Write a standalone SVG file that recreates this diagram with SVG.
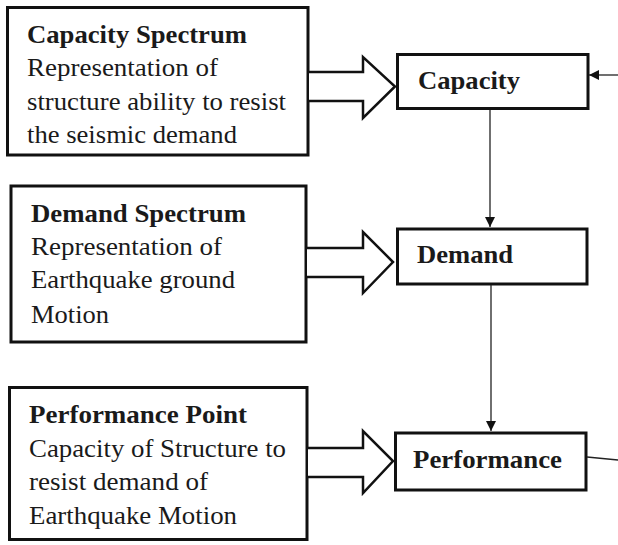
<svg xmlns="http://www.w3.org/2000/svg" width="618" height="545" viewBox="0 0 618 545">
<style>
.box{fill:#fff;stroke:#111;stroke-width:3}
.blk{fill:#fff;stroke:#111;stroke-width:2.5;stroke-linejoin:miter}
.t{font-family:"Liberation Serif","Times New Roman",serif;font-size:25px;fill:#1a1a1a}
.b{font-weight:bold}
.ln{stroke:#222;stroke-width:1.3;fill:none}
</style>
<defs>
<marker id="ah" viewBox="0 0 10 10" refX="10" refY="5" markerWidth="10" markerHeight="10" markerUnits="userSpaceOnUse" orient="auto">
<path d="M0,0 L10,5 L0,10 z" fill="#111"/>
</marker>
</defs>
<rect width="618" height="545" fill="#fff"/>
<g id="capacity-spectrum">
<rect class="box" x="7.5" y="7.5" width="300.5" height="147.5"/>
<text class="t b" x="27" y="43" textLength="220" lengthAdjust="spacingAndGlyphs">Capacity Spectrum</text>
<text class="t" x="27" y="76" textLength="191" lengthAdjust="spacingAndGlyphs">Representation of</text>
<text class="t" x="27" y="110" textLength="259" lengthAdjust="spacingAndGlyphs">structure ability to resist</text>
<text class="t" x="27" y="143" textLength="210" lengthAdjust="spacingAndGlyphs">the seismic demand</text>
</g>
<g id="demand-spectrum">
<rect class="box" x="11" y="186" width="295" height="156"/>
<text class="t b" x="31" y="222" textLength="215" lengthAdjust="spacingAndGlyphs">Demand Spectrum</text>
<text class="t" x="31" y="255" textLength="191" lengthAdjust="spacingAndGlyphs">Representation of</text>
<text class="t" x="31" y="288" textLength="204" lengthAdjust="spacingAndGlyphs">Earthquake ground</text>
<text class="t" x="31" y="323" textLength="78" lengthAdjust="spacingAndGlyphs">Motion</text>
</g>
<g id="performance-point">
<rect class="box" x="9.5" y="387.5" width="297.5" height="152"/>
<text class="t b" x="29" y="423" textLength="218" lengthAdjust="spacingAndGlyphs">Performance Point</text>
<text class="t" x="29" y="457" textLength="257" lengthAdjust="spacingAndGlyphs">Capacity of Structure to</text>
<text class="t" x="29" y="490" textLength="179" lengthAdjust="spacingAndGlyphs">resist demand of</text>
<text class="t" x="29" y="524" textLength="208" lengthAdjust="spacingAndGlyphs">Earthquake Motion</text>
</g>
<g id="capacity">
<rect class="box" x="397.5" y="54.5" width="190.5" height="54"/>
<text class="t b" x="418" y="89" textLength="102" lengthAdjust="spacingAndGlyphs">Capacity</text>
</g>
<g id="demand">
<rect class="box" x="397.5" y="229" width="189.5" height="55"/>
<text class="t b" x="417" y="263" textLength="96" lengthAdjust="spacingAndGlyphs">Demand</text>
</g>
<g id="performance">
<rect class="box" x="395.5" y="433" width="190.5" height="57"/>
<text class="t b" x="413" y="468" textLength="149" lengthAdjust="spacingAndGlyphs">Performance</text>
</g>
<g id="connectors">
<path class="blk" d="M309,72 L363,72 L363,57 L395,86.5 L363,118 L363,101 L309,101"/>
<path class="blk" d="M307,248 L363,248 L363,232 L393,262 L363,293 L363,277 L307,277"/>
<path class="blk" d="M308,448 L363,448 L363,431 L393,461 L363,493 L363,477 L308,477"/>
<line class="ln" x1="618" y1="75" x2="589" y2="75" marker-end="url(#ah)"/>
<line class="ln" x1="490" y1="110" x2="490" y2="227" marker-end="url(#ah)"/>
<line class="ln" x1="491" y1="285" x2="491" y2="431" marker-end="url(#ah)"/>
<line class="ln" x1="587" y1="457" x2="618" y2="460"/>
</g>
</svg>
